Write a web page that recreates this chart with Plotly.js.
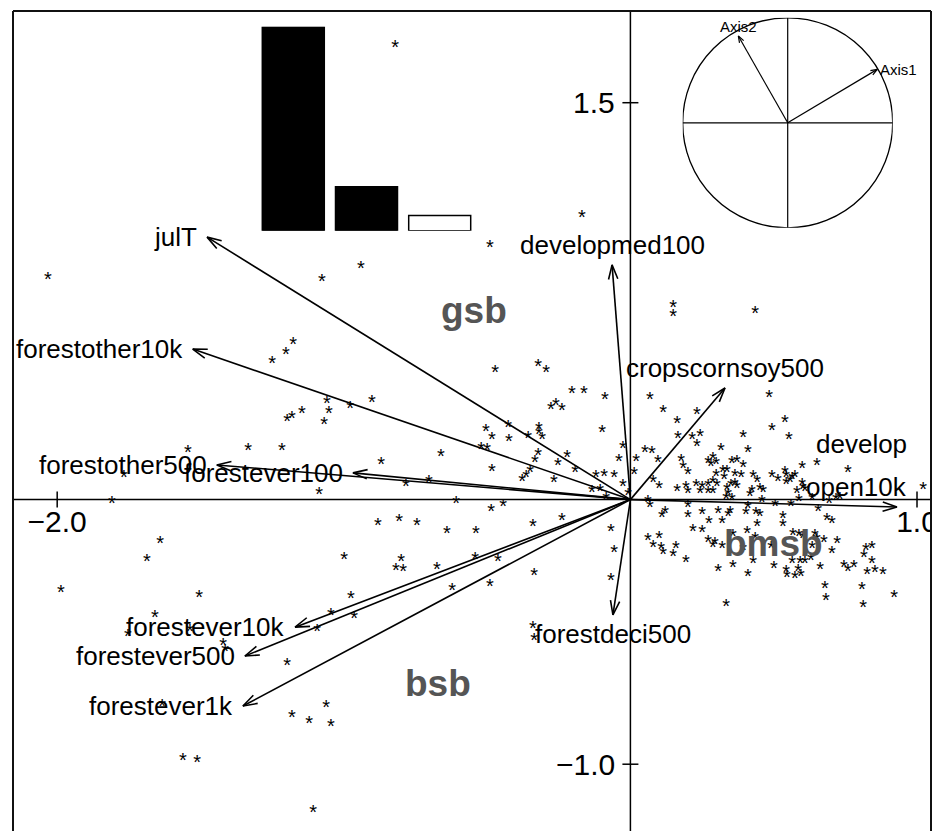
<!DOCTYPE html>
<html><head><meta charset="utf-8">
<script src="https://cdn.plot.ly/plotly-3.0.1.min.js"></script>
<style>
html,body{margin:0;padding:0;background:#fff;}
#plot{width:937px;height:831px;}
</style>
</head><body><div id="plot"></div>
<script>
// ---------- data ----------
const ptX = [
-2.032,-0.821,-0.169,-0.490,-0.940,-1.076,-1.177,-1.202,-1.250,-1.146,
-1.181,-1.198,-1.544,-1.334,-1.216,-1.767,-1.809,-1.641,-1.086,-0.472,
-0.322,-0.294,-0.204,-0.162,-0.089,-1.059,-0.978,-0.902,-1.052,-1.069,
-0.260,-0.277,-0.239,-0.504,-0.427,-0.483,-0.424,-0.357,-0.319,-0.319,
-0.308,-0.099,-0.521,-0.500,-0.661,-0.322,-0.221,-0.026,-0.040,-0.870,
-0.333,-0.253,-0.483,-0.350,-0.193,-0.378,-0.364,-0.267,-0.120,-0.092,
-0.057,-0.026,-0.134,-0.106,-0.085,-0.008,-0.703,-0.783,-0.608,-0.486,
-0.444,-0.881,-0.807,-0.745,-0.640,-0.539,-0.340,-0.239,-0.068,-0.057,
-1.687,-1.987,-1.505,-1.659,-1.753,-1.537,-1.421,-1.414,-1.093,-1.198,
-1.634,-1.181,-1.121,-1.561,-1.512,-1.107,-0.999,-0.800,-0.818,-0.793,
-0.675,-0.542,-0.462,-0.336,-0.068,-0.975,-0.622,-0.490,-1.045,-0.964,
-0.340,-0.336,-1.062,-1.045,
0.149,0.149,0.435,0.068,0.484,0.114,0.232,0.163,0.539,0.494,
0.166,0.215,0.243,0.232,0.393,0.553,0.051,0.075,0.316,0.410,
0.020,0.096,0.177,0.288,0.271,0.299,0.281,0.354,0.372,0.393,
0.184,0.201,0.013,0.599,0.651,0.759,0.299,0.323,0.337,0.365,
0.386,0.327,0.428,0.442,0.494,0.515,0.539,0.543,0.564,0.574,
0.557,0.543,0.599,0.602,0.581,0.609,0.634,0.588,0.693,0.717,
0.731,1.021,0.505,0.560,0.655,0.079,0.100,0.163,0.194,0.201,
0.229,0.250,0.243,0.271,0.288,0.271,0.288,0.302,0.337,0.341,
0.351,0.365,0.372,0.334,0.354,0.417,0.424,0.452,0.463,0.459,
0.061,0.068,0.201,0.410,0.121,0.110,0.201,0.250,0.306,0.348,
0.341,0.403,0.438,0.452,0.532,0.532,0.686,0.703,0.274,0.320,
0.442,0.218,0.250,0.407,0.061,0.100,0.271,0.295,0.358,0.567,
0.588,0.602,0.644,0.651,0.675,0.721,0.079,0.107,0.114,0.159,
0.149,0.194,0.288,0.320,0.393,0.435,0.491,0.634,0.630,0.703,
0.822,0.843,0.815,0.843,0.745,0.759,0.780,0.826,0.853,0.881,
0.662,0.564,0.592,0.609,0.585,0.543,0.546,0.574,0.595,0.501,
0.428,0.410,0.358,0.306,0.679,0.682,0.808,0.812,0.920,0.334
];
const ptY = [
0.853,1.729,1.087,0.973,0.894,0.845,0.607,0.569,0.535,0.346,
0.327,0.316,0.199,0.206,0.203,0.104,0.006,-0.145,0.040,0.501,
0.524,0.501,0.422,0.422,0.399,0.384,0.365,0.388,0.346,0.305,
0.376,0.361,0.357,0.278,0.293,0.248,0.240,0.252,0.286,0.267,
0.248,0.274,0.210,0.206,0.184,0.187,0.180,0.214,0.165,0.153,
0.161,0.150,0.127,0.123,0.123,0.089,0.104,0.085,0.104,0.108,
0.104,0.070,0.048,0.051,0.021,0.036,0.085,0.067,0.006,-0.024,
-0.005,-0.077,-0.062,-0.077,-0.107,-0.107,-0.081,-0.058,-0.100,-0.179,
-0.213,-0.330,-0.349,-0.425,-0.497,-0.478,-0.531,-0.553,-0.481,-0.606,
-0.761,-0.803,-0.825,-0.965,-0.973,-1.162,-0.206,-0.213,-0.247,-0.251,
-0.243,-0.206,-0.213,-0.266,-0.285,-0.353,-0.323,-0.308,-0.417,-0.429,
-0.466,-0.512,-0.765,-0.840,
0.747,0.713,0.724,0.399,0.407,0.350,0.342,0.308,0.312,0.282,
0.252,0.248,0.259,0.221,0.255,0.248,0.199,0.195,0.203,0.199,
0.165,0.161,0.165,0.172,0.157,0.153,0.146,0.157,0.161,0.142,
0.135,0.116,0.116,0.138,0.150,0.123,0.108,0.123,0.123,0.108,
0.104,0.097,0.101,0.085,0.101,0.089,0.119,0.101,0.097,0.104,
0.085,0.078,0.074,0.059,0.044,0.051,0.017,0.014,0.006,0.017,
0.021,0.059,-0.005,-0.005,-0.024,0.085,0.063,0.051,0.063,0.044,
0.067,0.063,0.044,0.044,0.044,0.070,0.082,0.067,0.055,0.036,
0.070,0.074,0.063,0.021,0.017,0.032,0.048,0.055,0.048,0.010,
0.010,-0.009,-0.009,-0.013,-0.032,-0.047,-0.047,-0.036,-0.032,-0.032,
-0.043,-0.036,-0.036,-0.043,-0.051,-0.081,-0.058,-0.070,-0.070,-0.070,
-0.081,-0.100,-0.104,-0.107,-0.134,-0.126,-0.141,-0.149,-0.119,-0.115,
-0.119,-0.126,-0.119,-0.134,-0.141,-0.145,-0.160,-0.168,-0.187,-0.164,
-0.194,-0.217,-0.160,-0.164,-0.172,-0.130,-0.164,-0.164,-0.209,-0.183,
-0.172,-0.164,-0.198,-0.221,-0.236,-0.251,-0.236,-0.262,-0.258,-0.262,
-0.243,-0.221,-0.224,-0.224,-0.251,-0.258,-0.274,-0.277,-0.270,-0.240,
-0.224,-0.270,-0.236,-0.251,-0.315,-0.361,-0.319,-0.387,-0.349,-0.383
];

const varNames  = ["julT","developmed100","cropscornsoy500","forestother10k","forestother500","forestever100","forestever10k","forestever500","forestever1k","forestdeci500","developopen10k"];
const varLabels = ["julT","developmed100","cropscornsoy500","forestother10k","forestother500","forestever100","forestever10k","forestever500","forestever1k","forestdeci500","develop\nopen10k"];
const varX = [-1.477,-0.064,0.330,-1.527,-1.443,-0.968,-1.170,-1.345,-1.352,-0.061,0.930];
const varY = [ 0.992, 0.887,0.422, 0.569, 0.131, 0.101,-0.482,-0.591,-0.780,-0.436,-0.028];

const groupNames = ["gsb","bsb","bmsb"];
const groupX = [-0.544,-0.673,0.499];
const groupY = [ 0.715,-0.696,-0.164];

const eigRel = [1.000, 0.216, 0.075];
const nAxesKept = 2;

const axisNames = ["Axis1","Axis2"];
const axisX = [0.853,-0.470];
const axisY = [0.509, 0.826];

const xTicks = [-2.0, 1.0];
const yTicks = [1.5, -1.0];

// ---------- geometry ----------
const W = 937, H = 831;
const M = {l:13, r:6, t:11, b:0};
const PW = W - M.l - M.r, PH = H - M.t - M.b;
const xRange = [-2.1542, 1.0488], yRange = [-1.2524, 1.8466];
const sx = PW/(xRange[1]-xRange[0]), sy = PH/(yRange[1]-yRange[0]);
const pX = px => (px - M.l)/PW;
const pY = py => (H - M.b - py)/PH;
const FONT = 'Liberation Sans, Arial, Helvetica, sans-serif';
const fmt = v => (v < 0 ? '\u2212' : '') + Math.abs(v).toFixed(1);

function arrowXY(x0,y0,x1,y1,kx,ky,len,ang,out){
  const dx=(x1-x0)*kx, dy=(y1-y0)*ky;
  const L=Math.hypot(dx,dy), ux=dx/L, uy=dy/L;
  const a=ang*Math.PI/180, c=Math.cos(a), s=Math.sin(a);
  const r1x=ux*c-uy*s, r1y=ux*s+uy*c, r2x=ux*c+uy*s, r2y=-ux*s+uy*c;
  out.x.push(x0,x1,null,x1-len*r1x/kx,x1,x1-len*r2x/kx,null);
  out.y.push(y0,y1,null,y1-len*r1y/ky,y1,y1-len*r2y/ky,null);
}

// ---------- traces ----------
const stars = {type:'scatter', mode:'text', x:ptX, y:ptY, text:ptX.map(()=>'*'),
  textposition:'middle center', textfont:{family:FONT,size:20,color:'#000'},
  hoverinfo:'skip', showlegend:false, cliponaxis:true};

const arr = {x:[],y:[]};
varX.forEach((x,i)=>arrowXY(0,0,x,varY[i],sx,sy,15,18,arr));
const arrows = {type:'scatter', mode:'lines', x:arr.x, y:arr.y,
  line:{color:'#000',width:1.6}, hoverinfo:'skip', showlegend:false};

const xtl = {type:'scatter', mode:'text', x:xTicks, y:xTicks.map(()=>-24.6/sy),
  text:xTicks.map(fmt), textposition:'middle center',
  textfont:{family:FONT,size:30,color:'#000'}, hoverinfo:'skip', showlegend:false, cliponaxis:true};

const bars = {type:'bar', xaxis:'x2', yaxis:'y2', x:eigRel.map((_,i)=>i), y:eigRel,
  marker:{color:eigRel.map((_,i)=> i<nAxesKept ? '#000' : '#fff'), line:{color:'#000',width:1.5}},
  hoverinfo:'skip', showlegend:false};

const carr = {x:[],y:[]};
axisX.forEach((x,i)=>arrowXY(0,0,x,axisY[i],105,105,7,20,carr));
const circArrows = {type:'scatter', mode:'lines', xaxis:'x3', yaxis:'y3', x:carr.x, y:carr.y,
  line:{color:'#000',width:1.2}, hoverinfo:'skip', showlegend:false};

// ---------- shapes ----------
const shapes = [];
const frame = {color:'#111', width:2};
shapes.push({type:'line',xref:'paper',yref:'paper',x0:0,x1:0,y0:0,y1:1,line:frame});
shapes.push({type:'line',xref:'paper',yref:'paper',x0:0,x1:1,y0:1,y1:1,line:frame});
shapes.push({type:'line',xref:'paper',yref:'paper',x0:1,x1:1,y0:0,y1:1,line:frame});
shapes.push({type:'line',xref:'paper',yref:'y',x0:0,x1:1,y0:0,y1:0,line:{color:'#000',width:1.5},layer:'below'});
shapes.push({type:'line',xref:'x',yref:'paper',x0:0,x1:0,y0:0,y1:1,line:{color:'#000',width:1.5},layer:'below'});
xTicks.forEach(t=>shapes.push({type:'line',xref:'x',yref:'y',x0:t,x1:t,ysizemode:'pixel',yanchor:0,y0:-8,y1:8,line:{color:'#000',width:1.5}}));
yTicks.forEach(t=>shapes.push({type:'line',xref:'x',yref:'y',y0:t,y1:t,xsizemode:'pixel',xanchor:0,x0:-8,x1:8,line:{color:'#000',width:1.5}}));
// correlation circle inset
shapes.push({type:'circle',xref:'x3',yref:'y3',x0:-1,x1:1,y0:-1,y1:1,line:{color:'#000',width:1.3}});
shapes.push({type:'line',xref:'x3',yref:'y3',x0:-1,x1:1,y0:0,y1:0,line:{color:'#000',width:1.2}});
shapes.push({type:'line',xref:'x3',yref:'y3',x0:0,x1:0,y0:-1,y1:1,line:{color:'#000',width:1.2}});

// ---------- annotations ----------
const ann = [];
yTicks.forEach(t=>ann.push({xref:'x',yref:'y',x:0,y:t,text:fmt(t),showarrow:false,
  xanchor:'right',yanchor:'middle',xshift:-13,font:{family:FONT,size:30,color:'#000'}}));

const LF = 26;
varLabels.forEach((lab,i)=>{
  const x=varX[i], y=varY[i];
  let dir;
  if (x>y && x>-y) dir='right';
  else if (x>y && x<=-y) dir='below';
  else if (x<=y && x<=-y) dir='left';
  else dir='above';
  const lines = lab.split('\n');
  const f = {family:FONT,size:LF,color:'#000'};
  const maxLen = Math.max(...lines.map(s=>s.length));
  if (dir==='right' && (x-xRange[0])*sx + 7 + maxLen*0.55*LF > PW) {
    // does not fit on the right: right-aligned, stacked above the tip
    lines.slice().reverse().forEach((s,k)=>ann.push({xref:'x',yref:'y',x:x,y:y,text:s,showarrow:false,
      xanchor:'right',yanchor:'middle',xshift:12,yshift:20+43*k,font:f}));
    return;
  }
  const base = {xref:'x',yref:'y',x:x,y:y,text:lines.join('<br>'),showarrow:false,font:f};
  if (dir==='left') Object.assign(base,{xanchor:'right',yanchor:'middle',xshift:-8});
  if (dir==='right') Object.assign(base,{xanchor:'left',yanchor:'middle',xshift:7});
  if (dir==='above') Object.assign(base,{xanchor:'center',yanchor:'middle',yshift:20});
  if (dir==='below') Object.assign(base,{xanchor:'center',yanchor:'middle',yshift:-19});
  ann.push(base);
});

groupNames.forEach((g,i)=>ann.push({xref:'x',yref:'y',x:groupX[i],y:groupY[i],text:'<b>'+g+'</b>',
  showarrow:false,xanchor:'center',yanchor:'middle',font:{family:FONT,size:37,color:'#555555'}}));

axisNames.forEach((a,i)=>{
  const x=axisX[i], y=axisY[i];
  const f={family:FONT,size:15,color:'#000'};
  if (x>y && x>-y) ann.push({xref:'x3',yref:'y3',x:x,y:y,text:a,showarrow:false,xanchor:'left',yanchor:'middle',xshift:1,font:f});
  else if (x<=y && x>-y) ann.push({xref:'x3',yref:'y3',x:x,y:y,text:a,showarrow:false,xanchor:'center',yanchor:'middle',yshift:10,font:f});
  else if (x<=y && x<=-y) ann.push({xref:'x3',yref:'y3',x:x,y:y,text:a,showarrow:false,xanchor:'right',yanchor:'middle',xshift:-1,font:f});
  else ann.push({xref:'x3',yref:'y3',x:x,y:y,text:a,showarrow:false,xanchor:'center',yanchor:'middle',yshift:-10,font:f});
});

// ---------- layout ----------
const hidden = {showgrid:false,zeroline:false,showticklabels:false,ticks:'',showline:false,fixedrange:true};
const layout = {
  width:W, height:H, margin:M, paper_bgcolor:'#fff', plot_bgcolor:'rgba(0,0,0,0)',
  showlegend:false, bargap:0.153, font:{family:FONT},
  xaxis:Object.assign({range:xRange,domain:[0,1]},hidden),
  yaxis:Object.assign({range:yRange,domain:[0,1]},hidden),
  xaxis2:Object.assign({range:[-0.5,eigRel.length-0.5],domain:[pX(256.7),pX(476.3)],anchor:'y2'},hidden),
  yaxis2:Object.assign({range:[0,eigRel[0]],domain:[pY(230.7),pY(26.7)],anchor:'x2'},hidden),
  xaxis3:Object.assign({range:[-1,1],domain:[pX(682.7),pX(892.7)],anchor:'y3'},hidden),
  yaxis3:Object.assign({range:[-1,1],domain:[pY(227.8),pY(17.8)],anchor:'x3'},hidden),
  shapes:shapes, annotations:ann
};

Plotly.newPlot('plot',[stars,arrows,xtl,bars,circArrows],layout,{staticPlot:true,displayModeBar:false})
.then(gd=>{
  const tr = gd.querySelectorAll('.subplot.xy .scatterlayer .trace')[0];
  if (tr) tr.querySelectorAll('.textpoint text').forEach(t=>t.setAttribute('transform','translate(0,6.6)'));
});
</script></body></html>
